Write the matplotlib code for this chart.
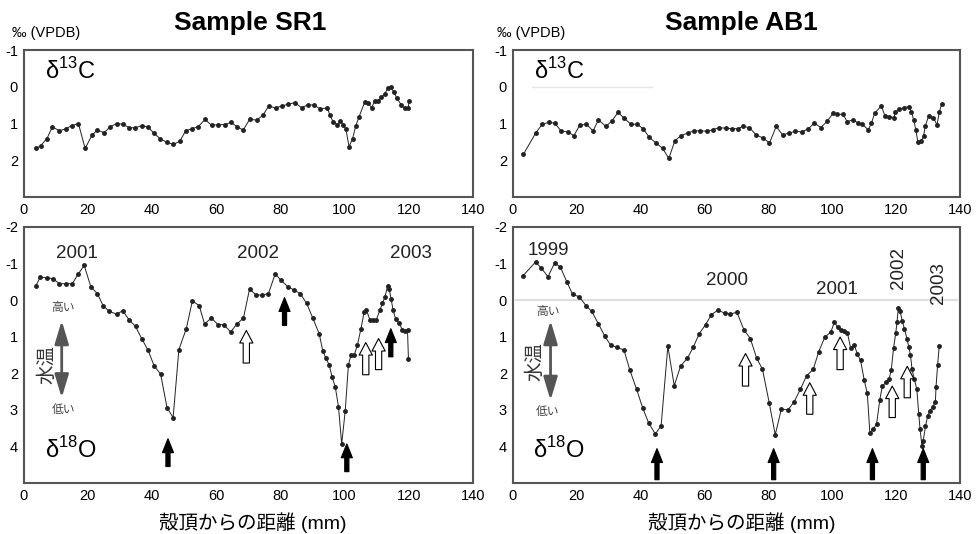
import matplotlib.pyplot as plt

plt.rcParams['font.family'] = ['Liberation Sans', 'Noto Sans CJK JP']
plt.rcParams['axes.unicode_minus'] = False

# ---- Sample SR1 : d13C ----
sr1_c_x = [4.0, 5.4, 7.3, 9.0, 11.2, 13.2, 15.0, 17.1, 19.2, 21.3, 23.0, 25.1, 27.0, 29.0, 30.9, 32.9,
           34.7, 36.8, 38.7, 40.7, 42.5, 44.6, 46.7, 48.7, 50.5, 52.4, 54.4, 56.5, 58.6, 60.7, 62.7, 64.6,
           66.6, 68.4, 70.5, 72.6, 74.6, 76.4, 78.5, 80.4, 82.4, 84.5, 86.6, 88.6, 90.5, 92.5, 94.6, 95.4,
           96.4, 97.7, 98.7, 99.5, 100.4, 101.4, 102.5, 103.5, 104.5, 106.3, 107.3, 108.4, 109.4, 110.4,
           111.5, 112.5, 113.5, 114.4, 115.3, 116.3, 117.7, 118.7, 119.8, 120.1]
sr1_c_y = [1.68, 1.60, 1.41, 1.09, 1.20, 1.14, 1.06, 1.00, 1.68, 1.32, 1.18, 1.25, 1.09, 1.00, 1.02, 1.11,
           1.12, 1.06, 1.09, 1.27, 1.41, 1.51, 1.57, 1.48, 1.20, 1.14, 1.09, 0.89, 1.05, 1.03, 1.03, 0.97,
           1.09, 1.18, 0.88, 0.91, 0.77, 0.52, 0.58, 0.52, 0.48, 0.43, 0.57, 0.49, 0.50, 0.61, 0.57, 0.76,
           0.95, 1.03, 0.94, 1.03, 1.15, 1.63, 1.41, 1.06, 0.82, 0.41, 0.43, 0.57, 0.39, 0.39,
           0.28, 0.19, 0.04, 0.01, 0.14, 0.31, 0.50, 0.58, 0.58, 0.40]

# ---- Sample SR1 : d18O ----
sr1_o_x = [3.9, 5.2, 7.3, 9.1, 11.2, 13.3, 15.2, 17.1, 18.9, 21.0, 23.0, 24.8, 26.7, 29.0, 30.9, 32.9,
           34.9, 36.8, 38.8, 40.7, 42.7, 44.7, 46.6, 48.4, 50.7, 52.6, 54.7, 56.4, 58.5, 60.6, 62.4, 64.5,
           66.5, 68.5, 70.4, 72.5, 74.3, 76.3, 78.4, 80.2, 82.3, 84.4, 86.2, 88.2, 90.1, 92.1, 93.2, 94.2,
           95.2, 96.1, 97.1, 98.1, 99.1, 100.2, 101.2, 102.0, 103.0, 104.0, 105.1, 106.1, 106.8, 107.9,
           108.9, 109.9, 111.0, 111.8, 112.6, 113.4, 113.9, 114.5, 115.1, 115.9, 117.0, 118.0, 118.9,
           119.6, 119.9]
sr1_o_y = [-0.40, -0.63, -0.61, -0.59, -0.45, -0.45, -0.45, -0.72, -0.95, -0.36, -0.18, 0.15, 0.31, 0.38,
           0.29, 0.54, 0.72, 1.05, 1.37, 1.80, 2.02, 2.94, 3.21, 1.35, 0.78, 0.02, 0.15, 0.65, 0.49, 0.67,
           0.67, 0.87, 0.65, 0.49, -0.30, -0.14, -0.14, -0.18, -0.72, -0.54, -0.37, -0.27, -0.18, 0.09,
           0.49, 0.92, 1.38, 1.59, 1.77, 2.10, 2.37, 2.91, 3.93, 3.03, 1.77, 1.50, 1.50, 1.23, 0.78, 0.33,
           0.27, 0.54, 0.54, 0.54, 0.27, 0.09, -0.09, -0.39, -0.30, -0.03, 0.27, 0.51, 0.63, 0.81, 0.84,
           0.83, 1.62]

# ---- Sample AB1 : d13C ----
ab1_c_x = [3.4, 7.25, 9.3, 11.4, 13.2, 15.2, 17.3, 19.2, 21.0, 23.1, 25.2, 26.9, 29.2, 31.1, 33.0, 35.0,
           37.0, 38.9, 40.9, 42.8, 44.9, 47.0, 48.9, 50.8, 52.7, 54.8, 56.7, 58.8, 60.9, 62.7, 64.6, 66.7,
           68.8, 70.5, 72.1, 74.1, 76.2, 78.3, 80.4, 82.5, 84.5, 86.6, 88.5, 90.5, 92.6, 94.4, 96.5, 98.5,
           100.3, 101.6, 103.4, 104.7, 106.5, 108.2, 109.4, 111.3, 112.3, 113.3, 115.4, 116.5, 117.9,
           119.3, 119.8, 121.0, 122.4, 123.9, 124.8, 125.5, 126.2, 126.8, 127.9, 128.6, 129.1, 130.2,
           131.7, 132.8, 133.5, 134.3]
ab1_c_y = [1.84, 1.26, 1.02, 0.97, 0.99, 1.20, 1.23, 1.33, 1.05, 1.02, 1.20, 0.90, 1.08, 0.93, 0.70, 0.86,
           1.02, 1.02, 1.14, 1.38, 1.53, 1.68, 1.95, 1.47, 1.33, 1.26, 1.20, 1.20, 1.21, 1.17, 1.11, 1.13,
           1.14, 1.14, 1.08, 1.11, 1.31, 1.39, 1.53, 1.08, 1.31, 1.26, 1.21, 1.23, 1.14, 0.99, 1.11, 0.93,
           0.72, 0.75, 0.75, 0.95, 0.90, 0.99, 1.02, 1.17, 0.99, 0.72, 0.52, 0.79, 0.81, 0.84, 0.68, 0.61,
           0.57, 0.54, 0.68, 0.90, 1.17, 1.50, 1.48, 1.35, 1.08, 0.79, 0.84, 1.04, 0.70, 0.46]

# ---- Sample AB1 : d18O ----
ab1_o_x = [3.2, 7.2, 9.0, 11.1, 13.2, 15.0, 17.0, 18.8, 20.9, 23.0, 24.8, 26.9, 28.9, 30.7, 32.8, 34.9,
           36.7, 38.8, 40.7, 42.6, 44.7, 46.5, 48.6, 50.6, 52.6, 54.7, 56.6, 58.4, 60.4, 62.2, 64.3, 66.4,
           68.2, 70.2, 72.4, 74.4, 76.4, 78.2, 80.3, 82.2, 84.1, 86.2, 88.1, 90.1, 92.0, 94.1, 95.8, 97.7,
           99.6, 100.7, 101.7, 102.7, 103.7, 104.8, 105.8, 106.9, 107.9, 108.9, 110.0, 111.0, 111.8, 112.9,
           113.9, 114.9, 115.7, 116.8, 117.8, 118.5, 119.2, 119.9, 120.3, 120.7, 121.3, 121.9, 122.6, 123.4,
           124.0, 124.5, 125.0, 125.7, 126.5, 127.1, 127.5, 128.1, 128.5, 129.2, 129.9, 130.6, 131.5, 132.3,
           132.5, 133.0, 133.5]
ab1_o_y = [-0.66, -1.04, -0.88, -0.64, -1.02, -0.90, -0.50, -0.16, -0.09, 0.15, 0.31, 0.65, 0.99, 1.23,
           1.29, 1.37, 1.91, 2.43, 2.94, 3.36, 3.66, 3.43, 1.26, 2.34, 1.80, 1.59, 1.28, 0.92, 0.67, 0.40,
           0.27, 0.36, 0.38, 0.33, 0.81, 1.05, 1.59, 1.89, 2.80, 3.68, 2.98, 3.00, 2.78, 2.43, 2.07, 1.89,
           1.41, 1.01, 0.87, 0.60, 0.74, 0.81, 0.84, 0.90, 1.32, 1.23, 1.47, 1.65, 2.17, 2.55, 3.63, 3.52,
           3.39, 2.73, 2.35, 2.25, 2.16, 1.91, 1.32, 0.90, 0.60, 0.22, 0.31, 0.56, 0.78, 1.05, 1.29, 1.50,
           1.89, 2.16, 2.44, 3.12, 3.52, 3.99, 3.84, 3.45, 3.16, 3.03, 2.91, 2.78, 2.37, 1.77, 1.26]

# arrows under the d18O curves: x, tail, tip, filled?
sr1_arr_x = [45.0, 69.4, 81.3, 100.7, 106.6, 110.6, 114.4]
sr1_arr_tail = [4.55, 1.72, 0.69, 4.69, 2.04, 1.90, 1.55]
sr1_arr_tip = [3.79, 0.83, -0.07, 3.93, 1.16, 1.05, 0.78]
sr1_arr_fill = [True, False, True, True, False, False, True]

ab1_arr_x = [45.2, 72.9, 81.7, 93.0, 102.5, 112.6, 118.8, 123.5, 128.5]
ab1_arr_tail = [4.91, 2.35, 4.91, 3.12, 1.90, 4.91, 3.21, 2.67, 4.91]
ab1_arr_tip = [4.06, 1.46, 4.06, 2.26, 1.01, 4.06, 2.35, 1.81, 4.06]
ab1_arr_fill = [True, False, True, False, False, True, False, False, True]

# year labels (text, x, y, rotation)
sr1_years = [('2001', 16.6, -1.28, 0), ('2002', 73.0, -1.28, 0), ('2003', 120.6, -1.28, 0)]
ab1_years = [('1999', 11.1, -1.36, 0), ('2000', 67.2, -0.54, 0), ('2001', 101.5, -0.28, 0),
             ('2002', 120.8, -0.88, 90), ('2003', 133.2, -0.48, 90)]

W, H = 977, 534
fig = plt.figure(figsize=(W / 100, H / 100), dpi=100)


def box(l, t, r, b):
    return [l / W, 1 - b / H, (r - l) / W, (b - t) / H]


def style(ax, ylim, yticks):
    ax.set_xlim(0, 140)
    ax.set_ylim(*ylim)
    ax.set_xticks(range(0, 141, 20))
    ax.set_yticks(yticks)
    ax.tick_params(length=0, labelsize=10.5, pad=4)
    for s in ax.spines.values():
        s.set_color('#555555')
        s.set_linewidth(1.5)


def series(ax, x, y):
    ax.plot(x, y, color='#222222', lw=0.7, marker='o', ms=2.5)


def arrows(ax, xs, tails, tips, fills):
    for x, y0, y1, f in zip(xs, tails, tips, fills):
        if f:
            st = 'simple,head_length=1.0,head_width=0.8,tail_width=0.3'
            fc = 'black'
        else:
            st = 'simple,head_length=0.9,head_width=0.95,tail_width=0.45'
            fc = 'white'
        ax.annotate('', xy=(x, y1), xytext=(x, y0),
                    arrowprops=dict(arrowstyle=st, mutation_scale=10, fc=fc, ec='black',
                                    lw=0.8, shrinkA=0, shrinkB=0))


def temp_scale(ax, x_arr, top, bot, x_txt, y_hi, y_lo, x_lab, y_lab):
    ax.annotate('', xy=(x_arr, top), xytext=(x_arr, bot),
                arrowprops=dict(arrowstyle='<|-|>,head_length=1.0,head_width=0.3', mutation_scale=14,
                                color='#555555', lw=2.0, shrinkA=0, shrinkB=0))
    ax.text(x_txt, y_hi, '高い', ha='center', va='center', fontsize=8.5, color='#444444')
    ax.text(x_txt, y_lo, '低い', ha='center', va='center', fontsize=8.5, color='#444444')
    ax.text(x_lab, y_lab, '水温', ha='center', va='center', fontsize=14, rotation=90, color='#333333')


ax1 = fig.add_axes(box(23.5, 50, 473, 197))
ax2 = fig.add_axes(box(23.5, 227, 473, 483))
ax3 = fig.add_axes(box(512.5, 50, 960, 197))
ax4 = fig.add_axes(box(512.5, 227, 960, 483))

for ax in (ax1, ax3):
    style(ax, (3, -1), [-1, 0, 1, 2])
for ax in (ax2, ax4):
    style(ax, (5, -2), [-2, -1, 0, 1, 2, 3, 4])

# faint guide lines
ax3.plot([6.2, 43.6], [0, 0], color='#e6e6e6', lw=1.0, zorder=0)
ax4.plot([1, 139], [0, 0], color='#dddddd', lw=1.5, zorder=0)

series(ax1, sr1_c_x, sr1_c_y)
series(ax2, sr1_o_x, sr1_o_y)
series(ax3, ab1_c_x, ab1_c_y)
series(ax4, ab1_o_x, ab1_o_y)

arrows(ax2, sr1_arr_x, sr1_arr_tail, sr1_arr_tip, sr1_arr_fill)
arrows(ax4, ab1_arr_x, ab1_arr_tail, ab1_arr_tip, ab1_arr_fill)

for ax, yrs in ((ax2, sr1_years), (ax4, ab1_years)):
    for t, x, y, r in yrs:
        ax.text(x, y, t, ha='center', va='center', fontsize=13.5, rotation=r, color='#222222')

delta_c = 'δ$^{\\mathregular{13}}$C'
delta_o = 'δ$^{\\mathregular{18}}$O'
ax1.text(6.7, -0.43, delta_c, ha='left', va='center', fontsize=17)
ax3.text(6.6, -0.43, delta_c, ha='left', va='center', fontsize=17)
ax2.text(6.7, 4.1, delta_o, ha='left', va='center', fontsize=17)
ax4.text(6.4, 4.1, delta_o, ha='left', va='center', fontsize=17)

temp_scale(ax2, 11.9, 0.56, 2.67, 12.4, 0.22, 3.01, 7.3, 1.75)
temp_scale(ax4, 11.9, 0.56, 2.74, 11.1, 0.33, 3.07, 7.0, 1.68)

fig.text(12 / W, 1 - 33 / H, '‰ (VPDB)', ha='left', va='center', fontsize=10.5)
fig.text(497 / W, 1 - 33 / H, '‰ (VPDB)', ha='left', va='center', fontsize=10.5)
fig.text(250 / W, 1 - 23 / H, 'Sample SR1', ha='center', va='center', fontsize=19, fontweight='bold')
fig.text(741 / W, 1 - 23 / H, 'Sample AB1', ha='center', va='center', fontsize=19, fontweight='bold')
fig.text(253 / W, 1 - 523 / H, '殻頂からの距離 (mm)', ha='center', va='center', fontsize=14)
fig.text(742 / W, 1 - 523 / H, '殻頂からの距離 (mm)', ha='center', va='center', fontsize=14)

fig.savefig('out.png', dpi=100)
